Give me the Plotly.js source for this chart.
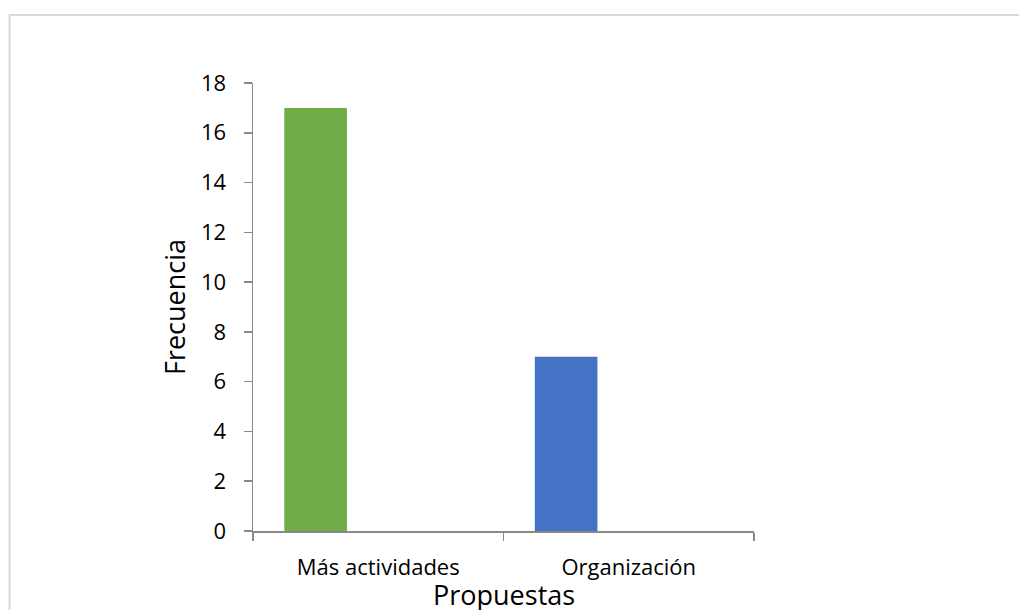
<!DOCTYPE html>
<html>
<head>
<meta charset="utf-8">
<script src="https://cdn.plot.ly/plotly-3.0.1.min.js"></script>
<style>
  html, body { margin: 0; padding: 0; background: #ffffff; }
  #chart { width: 1019px; height: 610px; }
</style>
</head>
<body>
<div id="chart"></div>
<script>
const categorias = ["Más actividades", "Organización"];
const frecuencia = [17, 7];
const coloresBarras = ["#70AD47", "#4472C4"];
const serieVacia2 = [0, 0];
const serieVacia3 = [0, 0];
const yTicks = [0, 2, 4, 6, 8, 10, 12, 14, 16, 18];
const tituloX = "Propuestas";
const tituloY = "Frecuencia";

const FONT = "Open Sans, Liberation Sans, sans-serif";

const traces = [
  { type: "bar", x: categorias, y: frecuencia, marker: { color: coloresBarras, line: { width: 0 } }, hoverinfo: "x+y" },
  { type: "bar", x: categorias, y: serieVacia2, marker: { color: "#A5A5A5", line: { width: 0 } }, hoverinfo: "skip" },
  { type: "bar", x: categorias, y: serieVacia3, marker: { color: "#FFC000", line: { width: 0 } }, hoverinfo: "skip" }
];

const L = 253, R = 754, T = 83, B = 531, W = 1019, H = 610;
const px2x = p => (p - L) / (R - L);
const px2y = p => (B - p) / (B - T);

const layout = {
  width: W, height: H,
  margin: { l: L, r: W - R, t: T, b: H - B, pad: 0 },
  paper_bgcolor: "#ffffff",
  plot_bgcolor: "#ffffff",
  showlegend: false,
  barmode: "group",
  bargap: 0.25,
  bargroupgap: 0,
  font: { family: FONT, color: "#000000", size: 22 },
  xaxis: {
    type: "category",
    showgrid: false,
    zeroline: false,
    showline: true,
    linecolor: "#898989",
    linewidth: 1.5,
    ticks: "outside",
    ticklen: 8,
    tickwidth: 1.5,
    tickcolor: "#898989",
    tickson: "boundaries",
    ticklabelstandoff: 16,
    tickfont: { family: FONT, size: 22, color: "#000000" },
    automargin: false,
    fixedrange: true
  },
  yaxis: {
    range: [0, 18],
    tickvals: yTicks,
    ticktext: yTicks.map(String),
    showgrid: false,
    zeroline: false,
    showline: true,
    linecolor: "#898989",
    linewidth: 1.5,
    ticks: "outside",
    ticklen: 8,
    tickwidth: 1.5,
    tickcolor: "#898989",
    ticklabelstandoff: 13,
    tickfont: { family: FONT, size: 22, color: "#000000" },
    title: { text: tituloY, font: { family: FONT, size: 27, color: "#000000" }, standoff: 7 },
    automargin: false,
    fixedrange: true
  },
  annotations: [
    {
      text: tituloX, xref: "paper", yref: "paper",
      x: 0.5, y: px2y(594), xanchor: "center", yanchor: "middle",
      showarrow: false, font: { family: FONT, size: 27, color: "#000000" }
    }
  ],
  shapes: [
    {
      type: "path", xref: "paper", yref: "paper", layer: "below",
      path: `M ${px2x(9.5)} ${px2y(H + 5)} L ${px2x(9.5)} ${px2y(15)} L ${px2x(W + 5)} ${px2y(15)}`,
      line: { color: "#D9D9D9", width: 2 }
    }
  ]
};

Plotly.newPlot("chart", traces, layout, { displayModeBar: false, staticPlot: true });
</script>
</body>
</html>
